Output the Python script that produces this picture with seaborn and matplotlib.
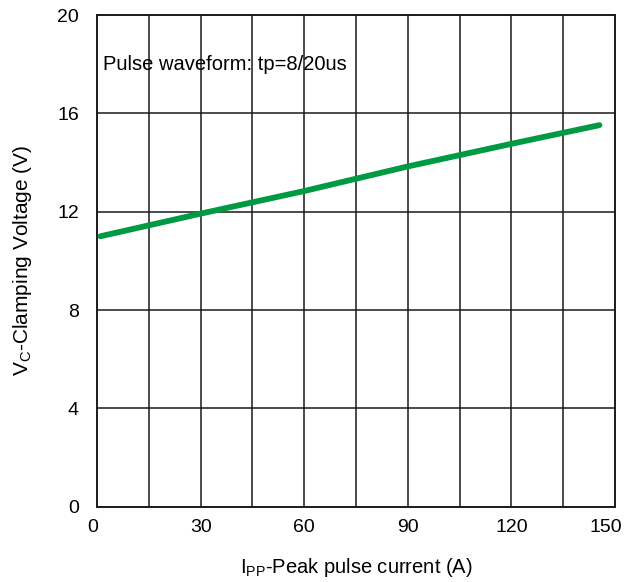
import matplotlib
matplotlib.use("Agg")
import matplotlib.pyplot as plt
import matplotlib.transforms as mtransforms
import seaborn as sns
import pandas as pd

current = [1, 30, 60, 90, 120, 145.5]
voltage = [11.0, 11.92, 12.84, 13.84, 14.76, 15.52]
x_ticks = [0, 30, 60, 90, 120, 150]
y_ticks = [0, 4, 8, 12, 16, 20]
x_grid = [15, 30, 45, 60, 75, 90, 105, 120, 135]
annotation = "Pulse waveform: tp=8/20us"

sns.set_style("white")
plt.rcParams['font.family'] = ['Liberation Sans', 'DejaVu Sans']
plt.rcParams['mathtext.fontset'] = 'custom'
plt.rcParams['mathtext.rm'] = 'Liberation Sans'
plt.rcParams['mathtext.it'] = 'Liberation Sans'
plt.rcParams['text.color'] = 'black'
plt.rcParams['axes.labelcolor'] = 'black'

df = pd.DataFrame({"Ipp": current, "Vc": voltage})

fig = plt.figure(figsize=(6.24, 5.82), dpi=100)
ax = fig.add_axes([97/624, 1 - 506.7/582, 518/624, (506.7 - 15)/582])

for gx in x_grid:
    ax.axvline(gx, color="#1a1a1a", lw=1.1, zorder=1)
for gy in y_ticks[1:-1]:
    ax.axhline(gy, color="#1a1a1a", lw=1.1, zorder=1)

sns.lineplot(data=df, x="Ipp", y="Vc", ax=ax, color="#009A44", lw=4.2,
             solid_capstyle="round", zorder=3)

ax.set_xlim(0, 150)
ax.set_ylim(0, 20)
ax.set_xticks(x_ticks)
ax.set_yticks(y_ticks)
ax.tick_params(axis="both", length=0, labelsize=14, colors="black")
ax.tick_params(axis="x", pad=9)
ax.tick_params(axis="y", pad=13)
xlabels = ax.get_xticklabels()
shifts = {0: -4, len(xlabels) - 1: -9}
for i, lbl in enumerate(xlabels):
    if i in shifts:
        off = mtransforms.ScaledTranslation(shifts[i]/100, 0, fig.dpi_scale_trans)
        lbl.set_transform(lbl.get_transform() + off)
for s in ax.spines.values():
    s.set_color("#1a1a1a")
    s.set_linewidth(1.4)

ax.set_xlabel(r"I$_{\rm PP}$-Peak pulse current (A)", fontsize=14.5, labelpad=14)
ax.set_ylabel(r"V$_{\rm C}$-Clamping Voltage (V)", fontsize=15, labelpad=17)

ax.text(1.7, 18.0, annotation, fontsize=14.5, va="center", ha="left", zorder=4)

fig.savefig("out.png", dpi=100)
